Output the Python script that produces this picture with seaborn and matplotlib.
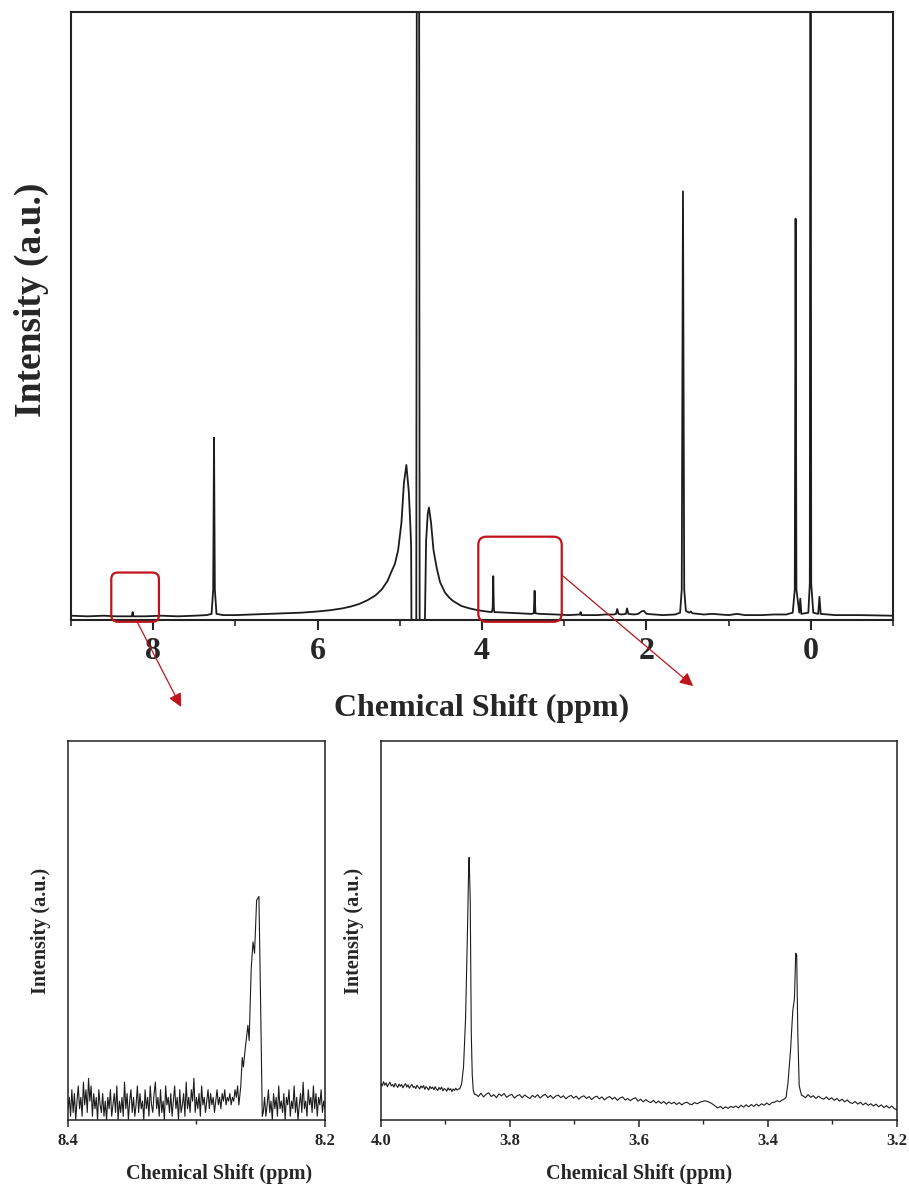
import numpy as np
import pandas as pd
import matplotlib
matplotlib.use("Agg")
import matplotlib.pyplot as plt
import seaborn as sns
from matplotlib.patches import FancyBboxPatch, ConnectionPatch
from matplotlib.ticker import MultipleLocator, FormatStrFormatter

# ---------------- data ----------------
# main 1H NMR spectrum: chemical shift (ppm) and relative intensity
main_ppm = [9.00, 8.80, 8.60, 8.45, 8.30, 8.26, 8.25, 8.24, 8.10, 7.90, 7.70, 7.50,
            7.35, 7.29, 7.27, 7.26, 7.25, 7.23, 7.15, 7.00, 6.80, 6.60, 6.40, 6.20,
            6.00, 5.85, 5.70, 5.60, 5.50, 5.40, 5.30, 5.22, 5.15, 5.10, 5.06, 5.02,
            4.98, 4.95, 4.92, 4.89, 4.87, 4.862, 4.855, 4.80, 4.79, 4.768, 4.758, 4.72,
            4.705, 4.68, 4.66, 4.645, 4.62, 4.59, 4.55, 4.51, 4.45, 4.40, 4.35, 4.25,
            4.15, 4.05, 3.95, 3.88, 3.87, 3.863, 3.856, 3.85, 3.70, 3.55, 3.40, 3.37,
            3.36, 3.35, 3.30, 3.10, 2.95, 2.81, 2.80, 2.79, 2.60, 2.50, 2.40, 2.37,
            2.355, 2.34, 2.30, 2.25, 2.235, 2.22, 2.15, 2.10, 2.06, 2.03, 2.00, 1.90,
            1.80, 1.65, 1.59, 1.57, 1.555, 1.54, 1.52, 1.48, 1.46, 1.44, 1.30, 1.20,
            1.00, 0.90, 0.80, 0.60, 0.45, 0.30, 0.22, 0.195, 0.185, 0.175, 0.14, 0.128,
            0.115, 0.03, 0.012, 0.003, -0.005, -0.03, -0.09, -0.105, -0.12, -0.30, -0.60, -1.00]
main_int = [0.007, 0.006, 0.007, 0.006, 0.006, 0.006, 0.013, 0.006, 0.006, 0.007, 0.006, 0.007,
            0.008, 0.010, 0.050, 0.300, 0.050, 0.010, 0.008, 0.008, 0.009, 0.010, 0.011, 0.012,
            0.014, 0.016, 0.019, 0.022, 0.026, 0.032, 0.040, 0.050, 0.064, 0.080, 0.092, 0.115,
            0.160, 0.225, 0.255, 0.210, 0.150, 0.120, -0.100, -0.100, 1.600, 1.600, -0.100, -0.100,
            -0.100, 0.130, 0.175, 0.185, 0.160, 0.115, 0.085, 0.062, 0.045, 0.037, 0.031, 0.023,
            0.019, 0.016, 0.014, 0.013, 0.020, 0.072, 0.020, 0.013, 0.012, 0.011, 0.010, 0.011,
            0.048, 0.011, 0.010, 0.009, 0.008, 0.009, 0.013, 0.008, 0.008, 0.009, 0.009, 0.010,
            0.018, 0.010, 0.009, 0.010, 0.019, 0.010, 0.009, 0.010, 0.014, 0.015, 0.010, 0.009,
            0.008, 0.009, 0.012, 0.050, 0.705, 0.050, 0.015, 0.012, 0.014, 0.011, 0.009, 0.010,
            0.008, 0.010, 0.008, 0.008, 0.009, 0.009, 0.012, 0.050, 0.660, 0.050, 0.012, 0.035,
            0.010, 0.012, 0.060, 1.600, 0.060, 0.012, 0.010, 0.038, 0.010, 0.008, 0.008, 0.007]

# boxed regions on the main spectrum (ppm left, ppm right, low, high)
box_small = (8.51, 7.93, -0.003, 0.078)
box_mid = (4.045, 3.03, -0.003, 0.137)

# inset 1 (8.4 - 8.2 ppm)
in1_noise_a = [0.03, 0.06, 0.01, 0.08, 0.02, 0.07, 0.00, 0.05, 0.09, 0.03,
               0.06, 0.01, 0.10, 0.04, 0.08, 0.02, 0.11, 0.05, 0.09, 0.01,
               0.07, 0.03, 0.06, 0.00, 0.08, 0.04, 0.02, 0.07, 0.01, 0.05,
               0.00, 0.06, 0.03, 0.08, 0.01, 0.04, 0.07, 0.02, 0.09, 0.00,
               0.05, 0.02, 0.06, 0.01, 0.10, 0.03, 0.07, 0.00, 0.05, 0.08,
               0.02, 0.06, 0.01, 0.04, 0.09, 0.02, 0.07, 0.03, 0.05, 0.00,
               0.08, 0.03, 0.06, 0.01, 0.09, 0.04, 0.02, 0.07, 0.10, 0.03,
               0.06, 0.01, 0.08, 0.02, 0.05, 0.00, 0.09, 0.04, 0.06, 0.02,
               0.07, 0.01, 0.05, 0.09, 0.03, 0.06, 0.00, 0.08, 0.02, 0.04,
               0.07, 0.01, 0.10, 0.03, 0.06, 0.02, 0.08, 0.05, 0.11, 0.02,
               0.06, 0.03, 0.07, 0.01, 0.09, 0.04, 0.06, 0.02, 0.05, 0.08,
               0.03, 0.07, 0.04, 0.06, 0.02, 0.05, 0.08, 0.04, 0.06, 0.03,
               0.07, 0.05, 0.08, 0.04, 0.06, 0.05, 0.07, 0.04, 0.06, 0.05,
               0.08, 0.06, 0.09]
in1_peak_ppm = [8.2670, 8.2655, 8.2644, 8.2635, 8.2620, 8.2600, 8.2590, 8.2574,
                8.2560, 8.2548, 8.2532, 8.2514, 8.2501, 8.2488]
in1_peak_int = [0.04, 0.09, 0.165, 0.14, 0.19, 0.25, 0.21, 0.40,
                0.47, 0.44, 0.58, 0.59, 0.31, 0.01]
in1_noise_b = [0.02, 0.06, 0.01, 0.04, 0.08, 0.02, 0.05, 0.00, 0.07, 0.03,
               0.06, 0.01, 0.09, 0.03, 0.05, 0.02, 0.07, 0.00, 0.06, 0.04,
               0.08, 0.01, 0.05, 0.03, 0.09, 0.02, 0.06, 0.00, 0.04, 0.07,
               0.02, 0.10, 0.03, 0.05, 0.01, 0.08, 0.04, 0.06, 0.02, 0.09,
               0.03, 0.07, 0.01, 0.06, 0.04, 0.08, 0.02, 0.05, 0.03]

# inset 2 (4.0 - 3.2 ppm)
in2_seg_a = [0.096, 0.090, 0.101, 0.092, 0.098, 0.088, 0.095, 0.100, 0.090, 0.094,
             0.087, 0.097, 0.091, 0.086, 0.095, 0.089, 0.094, 0.085, 0.091, 0.096,
             0.087, 0.093, 0.084, 0.090, 0.094, 0.086, 0.089, 0.083, 0.092, 0.087,
             0.082, 0.090, 0.085, 0.091, 0.081, 0.088, 0.084, 0.079, 0.089, 0.083,
             0.087, 0.080, 0.088, 0.082, 0.078, 0.086, 0.081, 0.087, 0.077, 0.083,
             0.081, 0.076, 0.085, 0.079, 0.083, 0.075, 0.082, 0.078, 0.084, 0.079,
             0.082]
in2_p1_ppm = [3.878, 3.875, 3.872, 3.8688, 3.866, 3.864, 3.8633, 3.8616, 3.860, 3.8585, 3.857, 3.855]
in2_p1_int = [0.082, 0.095, 0.14, 0.27, 0.49, 0.67, 0.693, 0.58, 0.23, 0.12, 0.08, 0.068]
in2_seg_b = [0.068, 0.062, 0.071, 0.061, 0.068, 0.072, 0.062, 0.067, 0.059, 0.069,
             0.064, 0.070, 0.060, 0.065, 0.068, 0.058, 0.064, 0.067, 0.059, 0.066,
             0.061, 0.057, 0.065, 0.060, 0.067, 0.058, 0.064, 0.068, 0.059, 0.065,
             0.057, 0.063, 0.066, 0.059, 0.064, 0.056, 0.062, 0.065, 0.058, 0.063,
             0.055, 0.061, 0.064, 0.057, 0.062, 0.054, 0.060, 0.063, 0.056, 0.061,
             0.053, 0.059, 0.062, 0.055, 0.060, 0.052, 0.058, 0.061, 0.053, 0.057,
             0.051, 0.056, 0.059, 0.050, 0.055, 0.048, 0.054, 0.049, 0.046, 0.052,
             0.045, 0.050, 0.044, 0.049, 0.042, 0.048, 0.043, 0.047, 0.041, 0.046,
             0.040, 0.045, 0.047, 0.042, 0.041, 0.046, 0.043, 0.047, 0.049, 0.051,
             0.049, 0.046, 0.042, 0.037, 0.032, 0.036, 0.030, 0.035, 0.031, 0.036,
             0.033, 0.037, 0.032, 0.039, 0.034, 0.040, 0.035, 0.041, 0.036, 0.042,
             0.037, 0.043, 0.039, 0.045, 0.040, 0.046, 0.047, 0.051, 0.048, 0.053]
in2_p2_ppm = [3.376, 3.372, 3.369, 3.365, 3.3615, 3.359, 3.357, 3.3555, 3.3538, 3.3516, 3.348]
in2_p2_int = [0.054, 0.060, 0.098, 0.186, 0.29, 0.32, 0.44, 0.435, 0.23, 0.09, 0.065]
in2_seg_c = [0.064, 0.059, 0.067, 0.060, 0.064, 0.057, 0.063, 0.058, 0.055, 0.061,
             0.054, 0.059, 0.052, 0.057, 0.050, 0.055, 0.048, 0.053, 0.046, 0.044,
             0.049, 0.042, 0.047, 0.040, 0.045, 0.039, 0.043, 0.037, 0.042, 0.035,
             0.040, 0.033, 0.038, 0.032, 0.037, 0.030, 0.027]

main_ticks = [8, 6, 4, 2, 0]
in1_ticks = [8.4, 8.2]
in2_ticks = [4.0, 3.8, 3.6, 3.4, 3.2]

# ---------------- assemble series ----------------
in1_x = np.concatenate([np.linspace(8.400, 8.268, len(in1_noise_a)), in1_peak_ppm,
                        np.linspace(8.248, 8.200, len(in1_noise_b))])
in1_y = np.concatenate([in1_noise_a, in1_peak_int, in1_noise_b])
in2_x = np.concatenate([np.linspace(4.000, 3.880, len(in2_seg_a)), in2_p1_ppm,
                        np.linspace(3.853, 3.378, len(in2_seg_b)), in2_p2_ppm,
                        np.linspace(3.346, 3.200, len(in2_seg_c))])
in2_y = np.concatenate([in2_seg_a, in2_p1_int, in2_seg_b, in2_p2_int, in2_seg_c])

main_df = pd.DataFrame({"ppm": main_ppm, "I": main_int})
in1_df = pd.DataFrame({"ppm": in1_x, "I": in1_y})
in2_df = pd.DataFrame({"ppm": in2_x, "I": in2_y})

# ---------------- style ----------------
sns.set_style("ticks")
plt.rcParams["font.family"] = ["Liberation Serif", "DejaVu Serif"]
plt.rcParams["font.weight"] = "bold"
plt.rcParams["axes.labelweight"] = "bold"
plt.rcParams["axes.edgecolor"] = "#222222"

RED = "#C0141C"

fig = plt.figure(figsize=(9.09, 11.87), dpi=100)
ax = fig.add_axes([0.0781, 0.4777, 0.9043, 0.5122])
ax1 = fig.add_axes([0.0748, 0.0564, 0.2827, 0.3193])
ax2 = fig.add_axes([0.4191, 0.0564, 0.5677, 0.3193])

sns.lineplot(data=main_df, x="ppm", y="I", ax=ax, sort=False, estimator=None,
             color="#1c1c1c", linewidth=1.3)
sns.lineplot(data=in1_df, x="ppm", y="I", ax=ax1, sort=False, estimator=None,
             color="#1c1c1c", linewidth=0.8)
sns.lineplot(data=in2_df, x="ppm", y="I", ax=ax2, sort=False, estimator=None,
             color="#1c1c1c", linewidth=0.8)

# main axes
ax.set_xlim(9, -1)
ax.set_ylim(0, 1)
ax.set_xticks(main_ticks)
ax.set_xticklabels([str(t) for t in main_ticks])
ax.xaxis.set_minor_locator(MultipleLocator(1))
ax.set_yticks([])
ax.tick_params(axis="x", which="major", direction="out", length=7, width=1.5,
               labelsize=23, pad=5)
ax.tick_params(axis="x", which="minor", direction="out", length=4, width=1.2)
ax.set_xlabel("Chemical Shift (ppm)", fontsize=23, labelpad=20)
ax.set_ylabel("Intensity (a.u.)", fontsize=27, labelpad=16)
ax.yaxis.label.set_y(0.526)
for s in ax.spines.values():
    s.set_linewidth(1.5)

# insets
ax1.set_xlim(8.4, 8.2)
ax1.set_ylim(0, 1)
ax1.set_xticks(in1_ticks)
ax1.xaxis.set_major_formatter(FormatStrFormatter("%.1f"))
ax1.xaxis.set_minor_locator(MultipleLocator(0.1))
ax1.set_yticks([])

ax2.set_xlim(4.0, 3.2)
ax2.set_ylim(0, 1)
ax2.set_xticks(in2_ticks)
ax2.xaxis.set_major_formatter(FormatStrFormatter("%.1f"))
ax2.xaxis.set_minor_locator(MultipleLocator(0.1))
ax2.set_yticks([])

for a in (ax1, ax2):
    a.tick_params(axis="x", which="major", direction="out", length=5, width=1.1,
                  labelsize=12, pad=4)
    a.tick_params(axis="x", which="minor", direction="out", length=3, width=1.0)
    a.set_xlabel("Chemical Shift (ppm)", fontsize=14.5, labelpad=11)
    a.set_ylabel("Intensity (a.u.)", fontsize=14.5, labelpad=12)
    for s in a.spines.values():
        s.set_linewidth(1.1)
ax1.xaxis.label.set_x(0.588)

# red rounded boxes on the main spectrum
aspect = (82.25 / 608.0)
for (xl, xr, yb, yt), r in ((box_small, 0.08), (box_mid, 0.10)):
    patch = FancyBboxPatch((xr, yb), xl - xr, yt - yb,
                           boxstyle=f"round,pad=0,rounding_size={r}",
                           mutation_aspect=aspect, fill=False, edgecolor=RED,
                           linewidth=1.6, clip_on=False, zorder=5)
    ax.add_patch(patch)

# arrows from the boxes to the insets
con1 = ConnectionPatch(xyA=(8.203, -0.001), coordsA=ax.transData,
                       xyB=(0.44, 1.09), coordsB=ax1.transAxes,
                       arrowstyle="-|>", color=RED, linewidth=0.9,
                       mutation_scale=20, zorder=6)
con2 = ConnectionPatch(xyA=(box_mid[1], 0.074), coordsA=ax.transData,
                       xyB=(0.605, 1.145), coordsB=ax2.transAxes,
                       arrowstyle="-|>", color=RED, linewidth=0.9,
                       mutation_scale=20, zorder=6)
fig.add_artist(con1)
fig.add_artist(con2)

fig.savefig("out.png", dpi=100, facecolor="white")
